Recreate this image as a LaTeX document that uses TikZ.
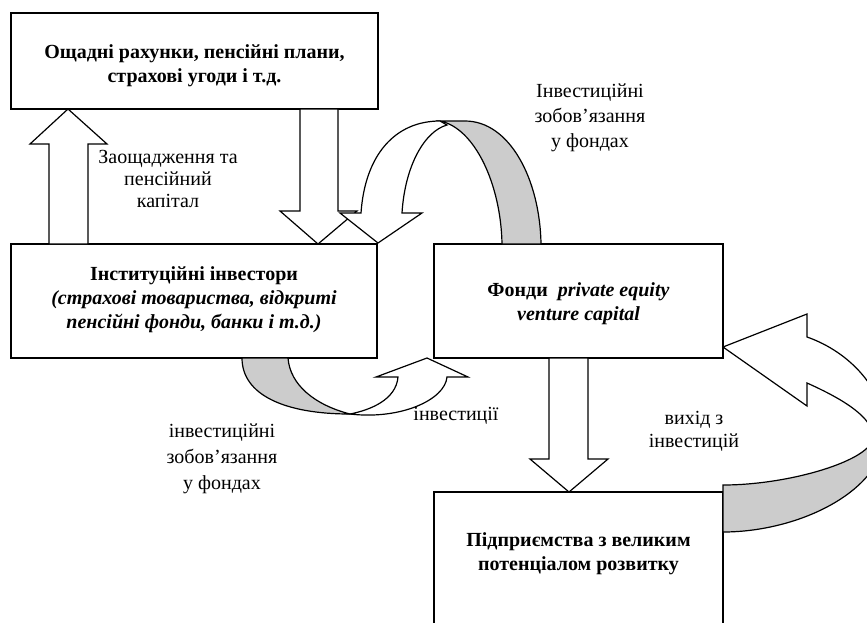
\documentclass[tikz,border=0pt]{standalone}
\usepackage{fontspec}
\setmainfont{Liberation Serif}
\begin{document}
\begin{tikzpicture}[x=1pt,y=-1pt,line width=1.2pt,line join=miter]
\tikzset{
  box/.style={draw,line width=1.2pt,inner sep=0pt,rectangle},
  boxtext/.style={inner sep=0pt,align=center,font=\fontsize{20}{24}\selectfont\bfseries},
  lbl/.style={inner sep=0pt,align=center,font=\fontsize{20}{24}\selectfont},
  blockarrow/.style={draw,fill=white,line width=1.2pt},
  ribbon/.style={draw,fill=black!20,line width=1.2pt}
}
\useasboundingbox (0,0) rectangle (867,622);
\clip (0,0) rectangle (867,622);
\fill[white] (0,0) rectangle (867,622);

% boxes
\node[box,minimum width=367pt,minimum height=96pt] (b1) at (194.5,61) {};
\node[box,minimum width=366pt,minimum height=114pt] (b2) at (194,301) {};
\node[box,minimum width=289pt,minimum height=114pt] (b3) at (578.5,301) {};
\node[box,minimum width=289pt,minimum height=158pt] (b4) at (578.5,571) {};

% box texts
\node[boxtext] (t1) at (194.5,66) {Ощадні рахунки, пенсійні плани,\\страхові угоди і т.д.};
\node[boxtext] (t2) at (194,299.5) {Інституційні інвестори\\\textit{(страхові товариства, відкриті}\\\textit{пенсійні фонди, банки і т.д.)}};
\node[boxtext] (t3) at (578.5,304) {Фонди\ \ \textit{private equity}\\\textit{venture capital}};
\node[boxtext] (t4) at (578.5,554) {Підприємства з великим\\потенціалом розвитку};

% up arrow (savings)
\draw[blockarrow] (49,244) -- (49,144) -- (30,144) -- (68,109) -- (107,144) -- (88,144) -- (88,244) -- cycle;
% down arrow from top box
\draw[blockarrow] (300,109) -- (300,211) -- (280,211) -- (318,244) -- (357,211) -- (338,211) -- (338,109) -- cycle;

% top curved arrow (fund commitments)
\draw[ribbon] (440,121) -- (465,121) .. controls (510,121) and (540,180) .. (541,244) -- (502,244) .. controls (501,185) and (475,128) .. (440,121) -- cycle;
\draw[blockarrow] (402,213) -- (422,213) -- (378,243) -- (340,213) -- (361,213) .. controls (365,155) and (395,121) .. (440,121) -- (447,125) .. controls (425,131) and (405,165) .. (402,213) -- cycle;

% down arrow from funds to enterprises
\draw[blockarrow] (549,358) -- (549,459) -- (530,459) -- (569,492) -- (608,459) -- (588,459) -- (588,358) -- cycle;

% lower curved arrow (investments)
\draw[ribbon] (242,358) .. controls (242,395) and (285,414) .. (350,414) .. controls (315,405) and (290,385) .. (288,358) -- cycle;
\draw[blockarrow] (350,414) .. controls (400,420) and (445,400) .. (447,377) -- (468,377) -- (427,358) -- (376,377) -- (398,377) .. controls (396,400) and (370,410) .. (350,414) -- cycle;

% right curved arrow (exit)
\draw[ribbon] (723,485) -- (723,532) .. controls (800,532) and (885,490) .. (885,432) -- (873,437) .. controls (873,460) and (790,485) .. (723,485) -- cycle;
\draw[blockarrow] (723,347) -- (807,314) -- (807,337) .. controls (850,352) and (885,390) .. (885,432) -- (873,437) .. controls (873,418) and (845,400) .. (807,383) -- (807,406) -- cycle;

% labels
\node[lbl,font=\fontsize{20}{22}\selectfont] (l1) at (168,178.5) {Заощадження та\\пенсійний\\капітал};
\node[lbl,font=\fontsize{20}{25}\selectfont] (l2) at (590,117.4) {Інвестиційні\\зобов’язання\\у фондах};
\node[lbl,font=\fontsize{20}{26}\selectfont] (l3) at (222,459) {інвестиційні\\зобов’язання\\у фондах};
\node[lbl] (l4) at (456,416) {інвестиції};
\node[lbl,font=\fontsize{20}{23}\selectfont] (l5) at (694,431) {вихід з\\інвестицій};
\end{tikzpicture}
\end{document}
